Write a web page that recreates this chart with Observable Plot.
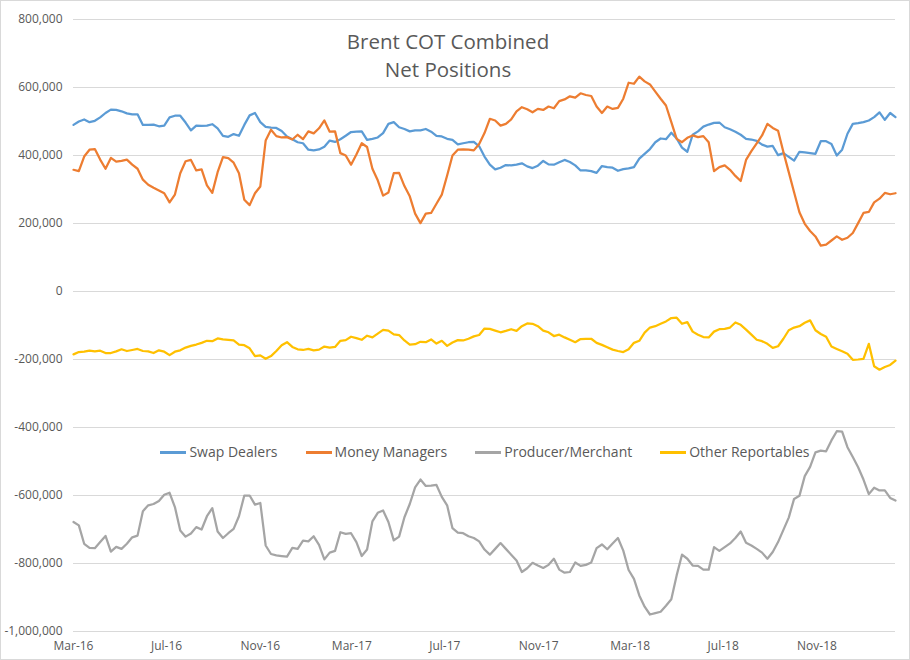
<!DOCTYPE html>
<html>
<head>
<meta charset="utf-8">
<script src="https://cdn.jsdelivr.net/npm/d3@7"></script>
<script src="https://cdn.jsdelivr.net/npm/@observablehq/plot@0.6"></script>
<style>
  html, body { margin: 0; padding: 0; background: #fff; }
  #wrap { position: relative; width: 910px; height: 660px; font-family: "Open Sans", sans-serif; color: #595959; }
  #wrap svg { position: absolute; left: 0; top: 0; }
  #border { position: absolute; left: 0; top: 0; width: 910px; height: 660px; box-sizing: border-box; border: 1px solid #d9d9d9; pointer-events: none; }
  #title { position: absolute; left: 0; width: 896px; top: 27px; text-align: center; font-size: 20.5px; line-height: 28px; color: #595959; }
  #legend { position: absolute; left: 0; width: 970px; top: 442px; display: flex; justify-content: center; gap: 28px; font-size: 14px; line-height: 20px; color: #595959; }
  .item { display: flex; align-items: center; }
  .sw { display: inline-block; width: 26px; height: 3px; margin-right: 3px; }
</style>
</head>
<body>
<div id="wrap">
  <div id="chart"></div>
  <div id="title">Brent COT Combined<br>Net Positions</div>
  <div id="legend"></div>
  <div id="border"></div>
</div>
<script>
// Weekly observations (Tuesdays) starting from this date
const startDate = "2016-03-01";

const seriesNames = ["Swap Dealers", "Money Managers", "Producer/Merchant", "Other Reportables"];
const seriesColors = ["#5B9BD5", "#ED7D31", "#A5A5A5", "#FFC000"];

// Net positions, in thousands of contracts
const swapDealers = [490,500,506,498,502,512,525,535,534,530,524,521,521,490,490,491,486,488,512,517,517,497,474,488,487,488,492,480,458,455,463,458,490,518,525,498,484,482,481,472,456,448,439,436,417,415,418,426,444,440,448,458,469,470,471,446,449,453,466,493,498,483,478,471,474,474,478,470,458,456,449,446,433,436,439,440,427,397,373,359,364,372,371,373,377,368,363,370,384,374,373,380,387,381,371,356,356,354,349,369,366,364,355,360,362,366,391,405,419,439,450,448,467,450,423,411,461,471,485,491,496,497,483,477,470,461,449,447,443,432,426,428,401,407,396,385,411,409,407,405,442,442,434,400,417,464,493,495,498,503,513,527,505,525,513];

const moneyManagers = [358,354,397,417,419,388,361,393,382,384,388,373,361,329,314,305,297,289,262,285,348,383,387,356,359,312,290,351,395,392,379,348,270,254,289,309,444,476,457,453,454,447,461,448,471,465,480,503,470,471,407,400,373,403,436,425,361,327,282,291,348,349,310,280,229,201,229,231,258,285,341,400,417,418,417,415,434,466,508,503,488,493,506,530,542,536,527,537,534,544,539,560,565,574,570,583,578,575,544,525,544,537,540,567,614,611,632,618,609,588,567,547,498,449,439,452,459,454,457,439,354,366,371,358,340,325,387,413,436,459,493,481,473,410,351,292,233,199,178,162,135,138,150,162,152,158,172,201,231,234,262,273,290,286,289];

const producerMerchant = [-678,-688,-742,-754,-755,-737,-719,-765,-751,-757,-742,-723,-718,-646,-629,-625,-616,-598,-592,-634,-703,-721,-712,-693,-700,-661,-637,-706,-725,-711,-698,-661,-600,-600,-627,-622,-747,-772,-776,-778,-780,-754,-757,-733,-735,-720,-745,-788,-768,-763,-708,-713,-711,-737,-778,-759,-676,-651,-644,-678,-732,-721,-664,-625,-576,-553,-572,-571,-569,-604,-629,-696,-709,-711,-720,-725,-735,-759,-774,-757,-740,-757,-774,-791,-825,-814,-798,-806,-813,-804,-786,-818,-827,-825,-797,-807,-804,-797,-755,-744,-758,-741,-725,-762,-819,-845,-894,-927,-950,-946,-942,-924,-905,-835,-774,-786,-806,-807,-818,-818,-752,-763,-752,-741,-725,-706,-739,-747,-757,-768,-786,-766,-737,-701,-665,-610,-601,-543,-516,-473,-468,-470,-438,-411,-412,-458,-487,-517,-553,-596,-577,-585,-585,-607,-615];

const otherReportables = [-185,-178,-177,-174,-176,-174,-181,-181,-176,-170,-175,-172,-169,-175,-176,-181,-173,-177,-187,-177,-173,-165,-160,-156,-151,-145,-146,-138,-141,-142,-144,-156,-158,-167,-190,-188,-198,-190,-175,-158,-149,-163,-170,-172,-169,-173,-171,-162,-165,-163,-145,-143,-133,-137,-142,-130,-135,-124,-113,-115,-126,-128,-144,-156,-155,-148,-149,-141,-153,-145,-160,-150,-143,-144,-139,-132,-128,-109,-110,-115,-120,-116,-111,-116,-102,-94,-95,-102,-115,-120,-131,-127,-135,-142,-149,-140,-139,-139,-151,-157,-164,-171,-175,-178,-170,-151,-145,-121,-106,-102,-95,-88,-78,-77,-95,-90,-118,-127,-134,-135,-118,-111,-110,-106,-91,-98,-112,-127,-142,-146,-154,-166,-161,-139,-114,-106,-102,-92,-85,-114,-125,-133,-162,-169,-176,-183,-201,-200,-198,-154,-220,-230,-222,-216,-203];

// Axis ticks
const xTickDates = ["2016-03-01","2016-07-01","2016-11-01","2017-03-01","2017-07-01","2017-11-01","2018-03-01","2018-07-01","2018-11-01"];
const yTicks = [-1000000,-800000,-600000,-400000,-200000,0,200000,400000,600000,800000];

// Build long-format table
const start = new Date(startDate + "T00:00:00Z");
const weekDate = i => new Date(start.getTime() + i * 7 * 86400000);
const seriesValues = [swapDealers, moneyManagers, producerMerchant, otherReportables];
const data = [];
seriesNames.forEach((name, s) => {
  seriesValues[s].forEach((v, i) => data.push({series: name, date: weekDate(i), value: v * 1000}));
});
const lastDate = weekDate(swapDealers.length - 1);

const chart = Plot.plot({
  width: 910,
  height: 660,
  marginLeft: 73,
  marginRight: 15,
  marginTop: 19,
  marginBottom: 29,
  style: {fontFamily: "'Open Sans', sans-serif", fontSize: "12px", color: "#595959", background: "transparent", overflow: "visible"},
  x: {
    type: "utc",
    domain: [start, lastDate],
    ticks: xTickDates.map(d => new Date(d + "T00:00:00Z")),
    tickFormat: d3.utcFormat("%b-%y"),
    tickSize: 0,
    tickPadding: 10,
    label: null
  },
  y: {
    domain: [-1000000, 800000],
    ticks: yTicks,
    tickFormat: d => d.toLocaleString("en-US"),
    tickSize: 0,
    tickPadding: 11,
    label: null
  },
  color: {domain: seriesNames, range: seriesColors},
  marks: [
    Plot.ruleY(yTicks, {stroke: "#d9d9d9", strokeWidth: 1}),
    Plot.lineY(data, {x: "date", y: "value", z: "series", stroke: "series", strokeWidth: 2.25, strokeLinejoin: "round", strokeLinecap: "round"})
  ]
});
document.getElementById("chart").appendChild(chart);

const legend = document.getElementById("legend");
seriesNames.forEach((name, i) => {
  const item = document.createElement("div");
  item.className = "item";
  const sw = document.createElement("span");
  sw.className = "sw";
  sw.style.background = seriesColors[i];
  const label = document.createElement("span");
  label.textContent = name;
  item.appendChild(sw);
  item.appendChild(label);
  legend.appendChild(item);
});
</script>
</body>
</html>
